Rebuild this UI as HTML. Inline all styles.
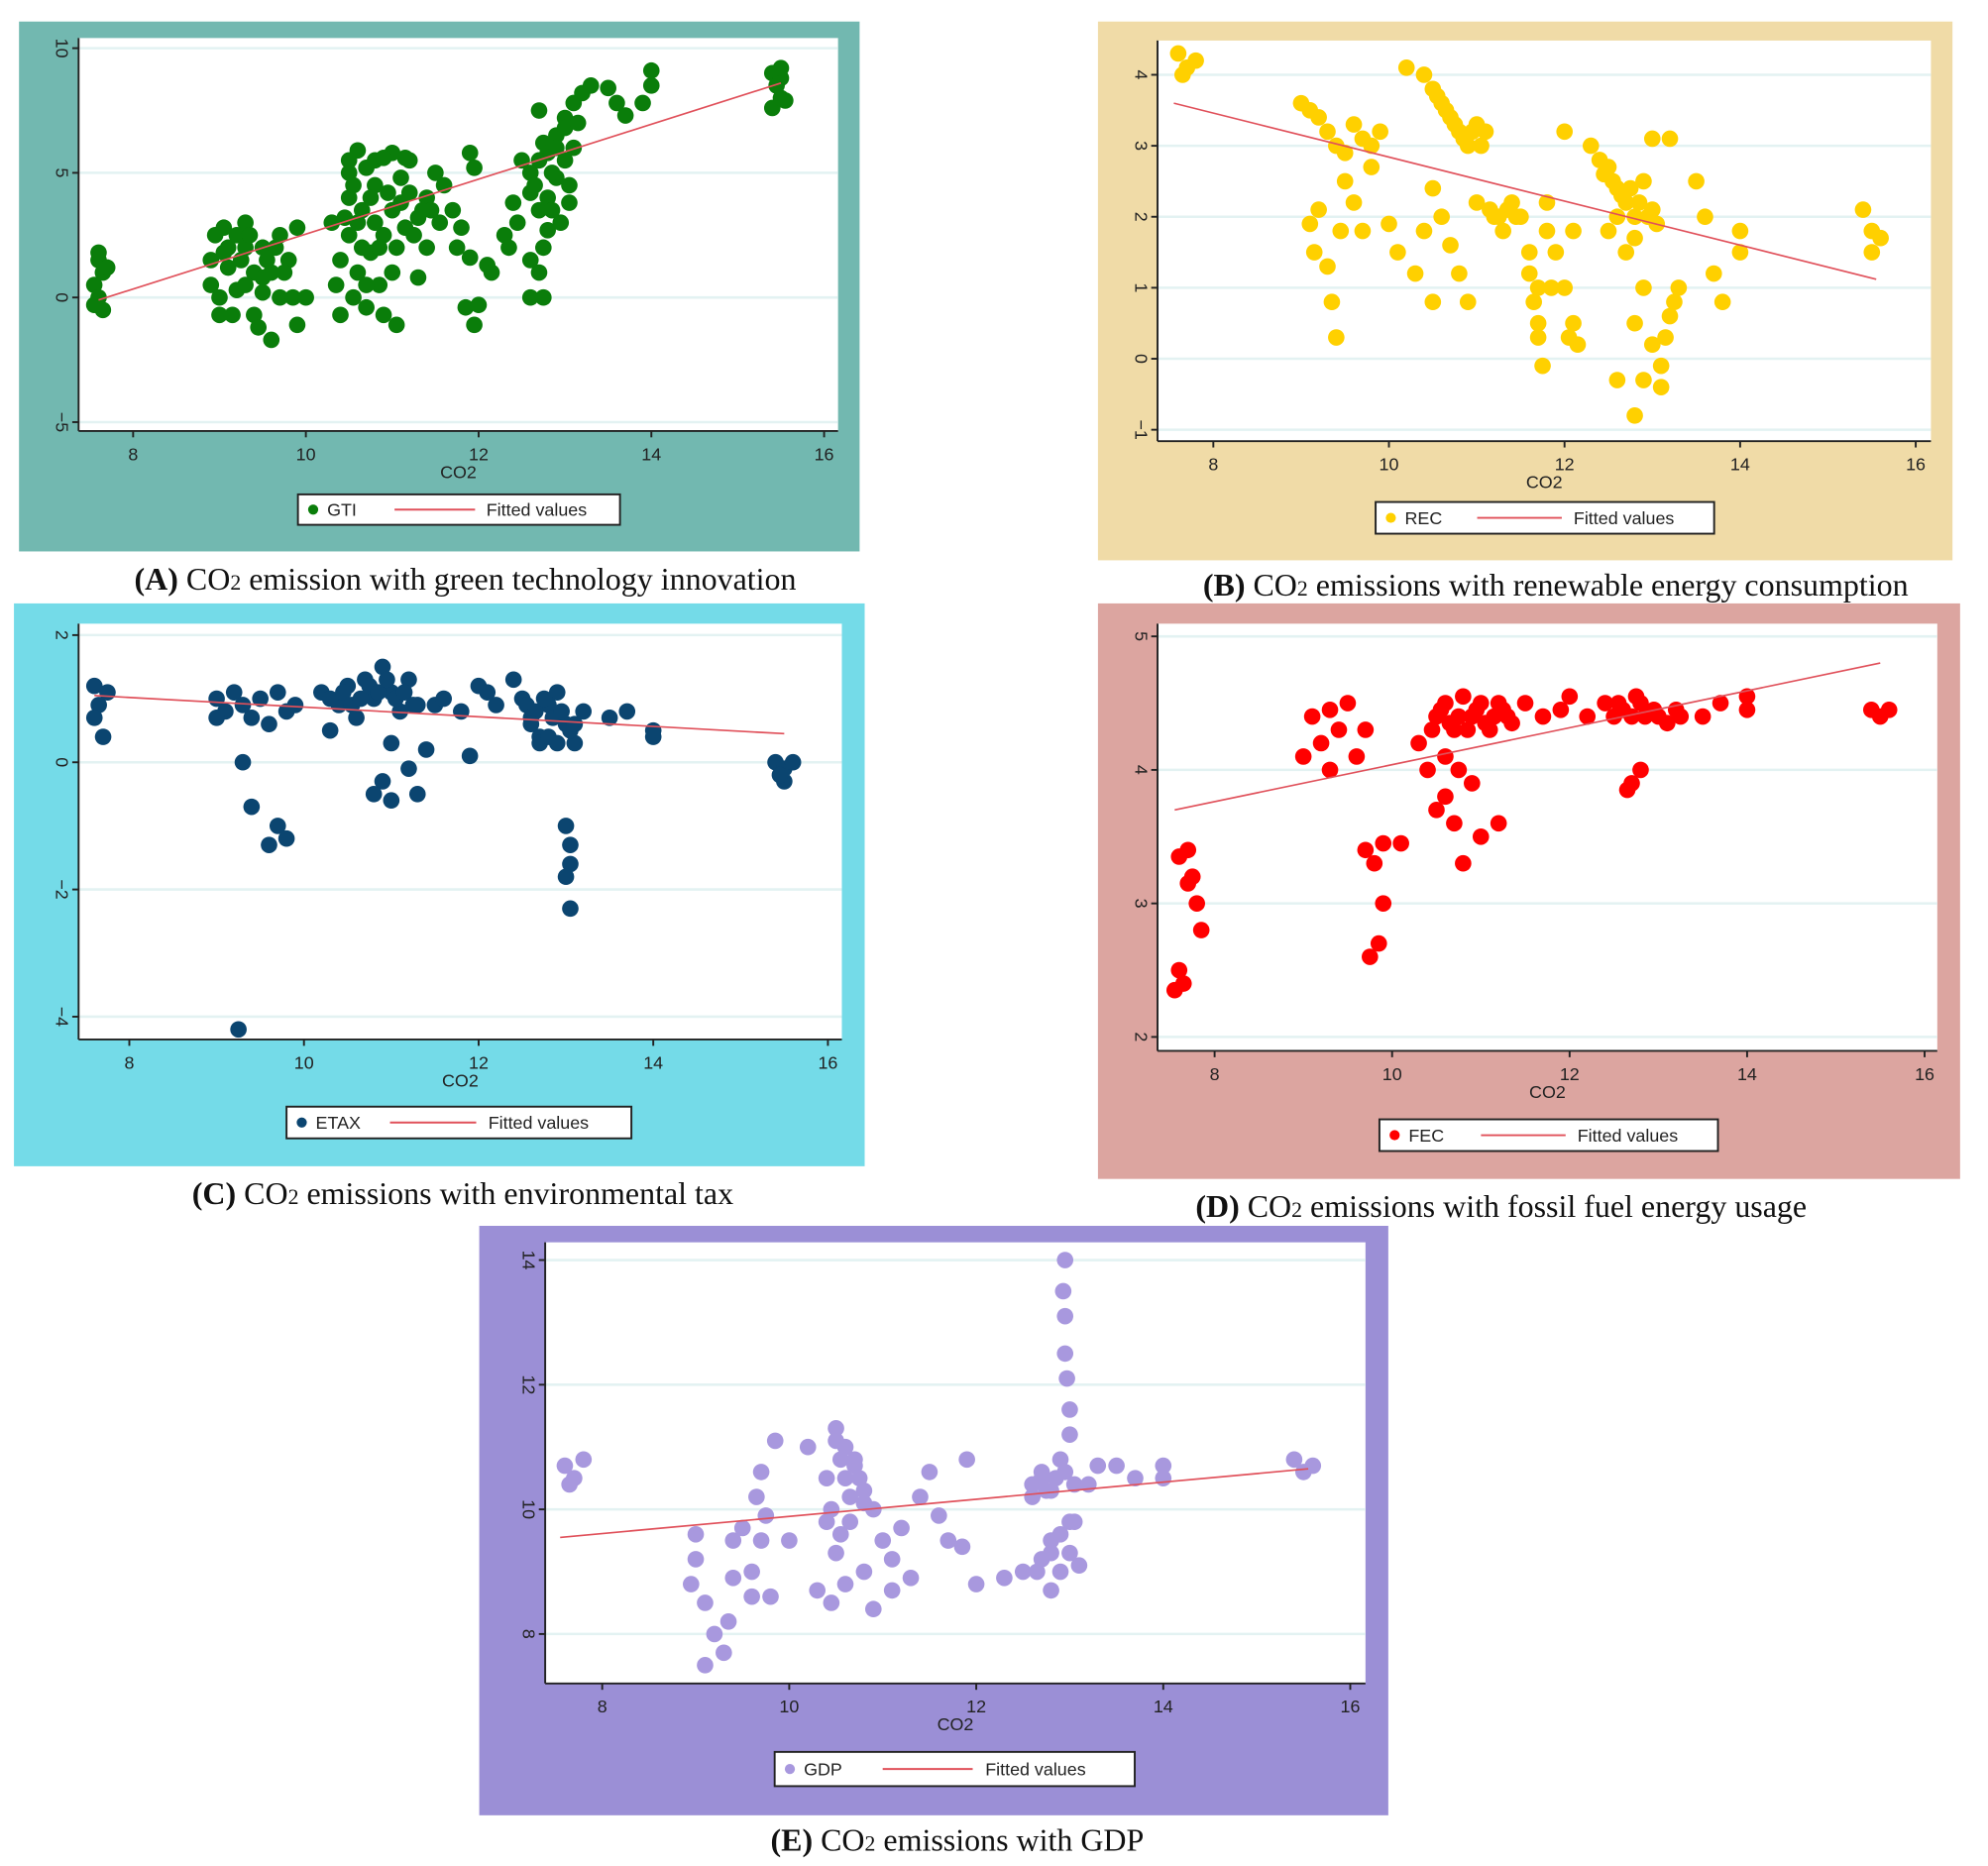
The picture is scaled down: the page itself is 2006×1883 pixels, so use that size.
<!DOCTYPE html>
<html><head><meta charset="utf-8">
<style>
html,body{margin:0;padding:0;background:#fff;}
svg{display:block;}
text{font-family:"Liberation Sans",sans-serif;}
.cap{font-family:"Liberation Serif",serif;font-size:25px;fill:#111;}
</style></head>
<body>
<svg id="fig" width="2006" height="1883" viewBox="0 0 1568 1472" preserveAspectRatio="none" xmlns="http://www.w3.org/2000/svg"></svg>
<script>
// ---- Data (CO2 on x; variable on y) ----
const xTicks = [8, 10, 12, 14, 16];
const gtiX = [7.6,7.65,7.55,7.6,7.65,7.7,7.6,7.55,8.9,8.9,8.95,9.0,9.05,9.1,9.2,9.3,9.3,9.4,9.4,9.5,9.5,9.6,9.6,9.7,9.7,9.8,9.85,9.9,9.9,9.0,9.15,9.45,10.0,10.3,10.35,10.4,10.4,10.5,10.5,10.5,10.55,10.6,10.65,10.7,10.75,10.8,10.8,10.85,10.9,10.9,11.0,11.0,11.0,11.05,11.1,11.15,11.2,11.3,11.3,11.4,11.4,11.5,11.55,11.6,11.7,11.75,11.8,11.9,11.9,11.95,11.85,11.95,12.0,12.1,12.15,12.3,12.35,12.4,12.45,12.5,12.6,12.6,12.6,12.7,12.6,12.75,12.7,12.7,12.75,12.8,12.8,12.9,12.9,12.95,13.0,13.0,13.05,13.1,13.1,13.2,13.3,13.5,13.6,13.7,13.9,14.0,14.0,15.4,15.4,15.45,15.5,15.5,15.55,15.5,
  10.5,10.55,10.6,10.65,10.7,10.75,10.8,10.85,10.9,10.95,
  11.05,11.1,11.15,11.2,11.25,11.35,11.45,10.45,10.6,10.7,
  12.65,12.7,12.8,12.85,12.9,13.0,13.05,13.15,12.75,12.85,
  9.1,9.2,9.25,9.35,9.55,9.65,9.75,9.05,9.3,9.5];
const gtiY = [1.5,1.0,0.5,0,-0.5,1.2,1.8,-0.3,0.5,1.5,2.5,0,2.8,1.2,0.3,2.0,3.0,1.0,-0.7,0.2,2.0,-1.7,1.0,0,2.5,1.5,0,2.8,-1.1,-0.7,-0.7,-1.2,0,3.0,0.5,-0.7,1.5,5.5,4.0,2.5,0,5.9,3.5,-0.4,1.8,5.5,4.5,0.5,2.5,-0.7,5.8,3.5,1.0,-1.1,4.8,2.8,5.5,3.2,0.8,4.0,2.0,5.0,3.0,4.5,3.5,2.0,2.8,1.6,5.8,5.2,-0.4,-1.1,-0.3,1.3,1.0,2.5,2.0,3.8,3.0,5.5,5.0,4.2,1.5,1.0,0,0,3.5,7.5,6.2,2.7,5.8,4.8,6.5,3.0,7.2,5.5,3.8,6.0,7.8,8.2,8.5,8.4,7.8,7.3,7.8,8.5,9.1,9.0,7.6,8.5,8.0,8.8,7.9,9.2,
  5.0,4.5,3.0,2.0,5.2,4.0,3.0,2.0,5.6,4.2,
  2.0,3.8,5.6,4.2,2.5,3.5,3.5,3.2,1.0,0.5,
  4.5,5.5,4.0,5.0,6.0,6.8,4.5,7.0,2.0,3.5,
  2.0,2.5,1.5,2.5,1.5,2.0,1.0,1.8,0.5,0.8];
const gtiTicks = [-5, 0, 5, 10];
const recX = [7.6,7.7,7.8,7.65,9.0,9.1,9.2,9.3,9.4,9.5,9.6,9.7,9.8,9.9,9.1,9.15,9.2,9.3,9.35,9.4,9.45,9.5,9.6,9.7,9.8,10.0,10.1,10.2,10.4,10.5,10.6,10.7,10.8,10.9,11.0,11.1,10.5,10.6,10.7,10.8,10.9,10.5,10.3,10.4,11.0,11.2,11.3,11.4,11.5,11.6,11.7,11.7,11.75,11.9,12.0,12.05,12.1,11.8,12.0,12.3,12.5,12.6,12.7,12.8,12.9,13.0,13.0,13.2,12.5,12.7,12.8,12.9,12.6,12.8,13.0,13.1,13.2,13.3,12.9,13.5,13.6,13.7,13.8,14.0,14.0,15.4,15.5,15.5,15.6,
  10.55,10.65,10.75,10.85,10.95,11.05,11.15,11.25,11.35,11.45,
  12.4,12.45,12.55,12.65,12.75,12.85,12.95,13.05,12.6,12.8,
  11.6,11.65,11.7,11.8,11.85,12.1,12.15,13.1,13.15,13.25];
const recY = [4.3,4.1,4.2,4.0,3.6,3.5,3.4,3.2,3.0,2.9,3.3,3.1,3.0,3.2,1.9,1.5,2.1,1.3,0.8,0.3,1.8,2.5,2.2,1.8,2.7,1.9,1.5,4.1,4.0,3.8,3.6,3.4,3.2,3.0,3.3,3.2,2.4,2.0,1.6,1.2,0.8,0.8,1.2,1.8,2.2,2.0,1.8,2.2,2.0,1.5,1.0,0.3,-0.1,1.5,1.0,0.3,1.8,2.2,3.2,3.0,2.7,2.4,2.2,2.0,2.5,2.1,3.1,3.1,1.8,1.5,0.5,-0.3,-0.3,-0.8,0.2,-0.4,0.6,1.0,1.0,2.5,2.0,1.2,0.8,1.5,1.8,2.1,1.8,1.5,1.7,
  3.7,3.5,3.3,3.1,3.2,3.0,2.1,2.0,2.1,2.0,
  2.8,2.6,2.5,2.3,2.4,2.2,2.0,1.9,2.0,1.7,
  1.2,0.8,0.5,1.8,1.0,0.5,0.2,-0.1,0.3,0.8];
const recTicks = [-1, 0, 1, 2, 3, 4];
const etaxX = [7.6,7.65,7.6,7.7,7.75,9.0,9.1,9.2,9.3,9.4,9.5,9.6,9.7,9.8,9.9,9.0,9.4,9.6,9.7,9.8,9.25,9.3,10.2,10.3,10.4,10.5,10.6,10.7,10.8,10.9,11.0,11.1,11.2,11.3,11.0,10.9,11.0,10.8,11.2,11.3,11.4,11.5,11.6,11.8,12.0,12.1,11.9,12.2,12.4,12.5,12.6,12.7,12.8,12.9,13.0,13.1,13.2,12.7,13.0,13.05,13.05,13.0,13.05,13.5,13.7,14.0,14.0,15.4,15.5,15.5,15.6,15.45,
  10.3,10.45,10.55,10.65,10.75,10.85,10.95,11.05,11.15,11.25,
  12.55,12.65,12.75,12.85,12.95,13.05,13.1,12.8,12.9,12.6];
const etaxY = [1.2,0.9,0.7,0.4,1.1,1.0,0.8,1.1,0.9,0.7,1.0,0.6,1.1,0.8,0.9,0.7,-0.7,-1.3,-1.0,-1.2,-4.2,0,1.1,0.5,0.9,1.2,0.7,1.3,1.0,1.5,1.1,0.8,1.3,0.9,0.3,-0.3,-0.6,-0.5,-0.1,-0.5,0.2,0.9,1.0,0.8,1.2,1.1,0.1,0.9,1.3,1.0,0.7,0.4,0.9,1.1,0.6,0.3,0.8,0.3,-1.0,-1.3,-1.6,-1.8,-2.3,0.7,0.8,0.5,0.4,0,-0.1,-0.3,0.0,-0.2,
  1.0,1.1,0.9,1.0,1.2,1.1,1.3,1.0,1.1,0.9,
  0.9,0.8,1.0,0.7,0.8,0.5,0.6,0.4,0.3,0.6];
const etaxTicks = [-4, -2, 0, 2];
const fecX = [7.55,7.6,7.65,7.6,7.7,7.75,7.8,7.85,7.7,9.0,9.1,9.2,9.3,9.4,9.5,9.6,9.7,9.3,9.7,9.8,9.9,9.75,9.85,9.9,10.1,10.3,10.4,10.5,10.6,10.7,10.8,10.9,11.0,11.1,11.2,11.3,10.6,10.7,10.8,11.0,11.2,10.9,10.5,11.5,11.7,11.9,12.0,12.2,12.4,12.6,12.8,13.0,13.2,12.7,12.8,12.65,13.5,13.7,14.0,14.0,15.4,15.5,15.6,
  10.45,10.55,10.65,10.75,10.85,10.95,11.05,11.15,11.25,11.35,
  12.5,12.55,12.7,12.75,12.85,12.95,13.1,13.25,10.6,10.75];
const fecY = [2.35,2.5,2.4,3.35,3.4,3.2,3.0,2.8,3.15,4.1,4.4,4.2,4.45,4.3,4.5,4.1,4.3,4.0,3.4,3.3,3.0,2.6,2.7,3.45,3.45,4.2,4.0,4.4,4.5,4.3,4.55,4.4,4.5,4.3,4.5,4.4,3.8,3.6,3.3,3.5,3.6,3.9,3.7,4.5,4.4,4.45,4.55,4.4,4.5,4.45,4.5,4.4,4.45,3.9,4.0,3.85,4.4,4.5,4.45,4.55,4.45,4.4,4.45,
  4.3,4.45,4.35,4.4,4.3,4.45,4.35,4.4,4.45,4.35,
  4.4,4.5,4.4,4.55,4.4,4.45,4.35,4.4,4.1,4.0];
const fecTicks = [2, 3, 4, 5];
const gdpX = [7.6,7.7,7.8,7.65,9.0,9.0,8.95,9.1,9.2,9.1,9.3,9.35,9.4,9.4,9.5,9.6,9.6,9.7,9.75,9.8,9.85,9.7,9.65,10.0,10.2,10.4,10.5,10.6,10.7,10.8,10.9,10.4,10.5,10.6,10.3,10.45,11.0,11.1,10.8,10.9,11.1,11.3,11.2,11.4,11.5,11.6,11.7,11.85,11.9,12.0,12.3,12.5,12.6,12.7,12.8,12.9,12.7,12.8,12.8,12.9,13.0,13.1,13.05,13.2,13.3,13.0,13.0,12.97,12.95,12.95,12.93,12.95,13.5,13.7,14.0,14.0,15.4,15.5,15.6,
  10.5,10.55,10.6,10.65,10.7,10.75,10.8,10.45,10.55,10.65,
  12.6,12.7,12.75,12.85,12.95,13.05,12.65,12.8,12.9,13.0];
const gdpY = [10.7,10.5,10.8,10.4,9.6,9.2,8.8,8.5,8.0,7.5,7.7,8.2,9.5,8.9,9.7,9.0,8.6,9.5,9.9,8.6,11.1,10.6,10.2,9.5,11.0,10.5,11.3,11.0,10.7,10.3,10.0,9.8,9.3,8.8,8.7,8.5,9.5,9.2,9.0,8.4,8.7,8.9,9.7,10.2,10.6,9.9,9.5,9.4,10.8,8.8,8.9,9.0,10.2,10.5,10.3,10.8,9.2,9.5,8.7,9.0,9.3,9.1,9.8,10.4,10.7,11.2,11.6,12.1,12.5,13.1,13.5,14.0,10.7,10.5,10.7,10.5,10.8,10.6,10.7,
  11.1,10.8,10.5,10.2,10.8,10.5,10.1,10.0,9.6,9.8,
  10.4,10.6,10.3,10.5,10.6,10.4,9.0,9.3,9.6,9.8];
const gdpTicks = [8, 10, 12, 14];
// fitted line endpoints [x0,y0,x1,y1]
const gtiFit = [7.6,-0.1,15.5,8.6];
const recFit = [7.55,3.6,15.55,1.12];
const etaxFit = [7.6,1.05,15.5,0.45];
const fecFit = [7.55,3.7,15.5,4.8];
const gdpFit = [7.55,9.55,15.55,10.65];

const NS = "http://www.w3.org/2000/svg";
const svg = document.getElementById('fig');
function mk(tag, attrs, parent){
  const e = document.createElementNS(NS, tag);
  for (const k in attrs) e.setAttribute(k, attrs[k]);
  (parent||svg).appendChild(e); return e;
}
function panel(p){
  const g = mk('g', {});
  
  
  const bg = mk('rect', {x:p.bx, y:p.by, width:p.bw, height:p.bh, fill:p.bg}, g);
  
  
  mk('rect', {x:p.px0, y:p.py0, width:p.px1-p.px0, height:p.py1-p.py0, fill:'#fff'}, g);
  const sx = v => p.xa + (v - 8) * (p.xb - p.xa) / 8;
  const sy = v => p.ya + (v - p.yt[0]) * (p.yb - p.ya) / (p.yt[p.yt.length-1] - p.yt[0]);
  p.yt.forEach(t => {
    const gl = mk('line', {x1:p.px0, x2:p.px1, y1:sy(t), y2:sy(t), stroke:'#e3f2f2', 'stroke-width':2}, g);
    
    
  });
  const ax = mk('line', {x1:p.px0, x2:p.px1, y1:p.py1, y2:p.py1, stroke:'#222', 'stroke-width':1.5}, g);
  
  
  const ay = mk('line', {x1:p.px0, x2:p.px0, y1:p.py0, y2:p.py1, stroke:'#222', 'stroke-width':1.5}, g);
  
  
  xTicks.forEach(t => {
    mk('line', {x1:sx(t), x2:sx(t), y1:p.py1, y2:p.py1+5, stroke:'#222', 'stroke-width':1.5}, g);
    const tl = mk('text', {x:sx(t), y:p.py1+23, 'font-size':14, 'text-anchor':'middle', fill:'#222'}, g);
    tl.textContent = t;
    
    
  });
  const xt = mk('text', {x:(p.px0+p.px1)/2, y:p.py1+37, 'font-size':14, 'text-anchor':'middle', fill:'#222'}, g);
  xt.textContent = 'CO2';
  
  
  p.yt.forEach(t => {
    mk('line', {x1:p.px0-5, x2:p.px0, y1:sy(t), y2:sy(t), stroke:'#222', 'stroke-width':1.5}, g);
    const yl = mk('text', {x:p.px0-14, y:sy(t), 'font-size':14, 'text-anchor':'middle', fill:'#222', transform:'rotate(90 '+(p.px0-14)+' '+sy(t)+')', 'dominant-baseline':'middle'}, g);
    yl.textContent = t < 0 ? '\u2212' + (-t) : t;
    
    
  });
  p.xs.forEach((x, i) => {
    const c = mk('circle', {cx:sx(x), cy:sy(p.ys[i]), r:6.5, fill:p.col}, g);
    
    
  });
  const f = p.fit;
  const fl = mk('line', {x1:sx(f[0]), y1:sy(f[1]), x2:sx(f[2]), y2:sy(f[3]), stroke:'#e0505a', 'stroke-width':1.3}, g);
  
  
  const lg = mk('g', {}, g);
  
  
  const lx = p.lx, ly = p.ly, lw = p.lw, lh = p.lh, cy = ly + lh/2;
  mk('rect', {x:lx, y:ly, width:lw, height:lh, fill:'#fff', stroke:'#222', 'stroke-width':1.5}, lg);
  mk('circle', {cx:lx+12, cy:cy, r:4, fill:p.col}, lg);
  const t1 = mk('text', {x:lx+23, y:cy+5, 'font-size':14, fill:'#222'}, lg);
  t1.textContent = p.name;
  
  
  mk('line', {x1:lx+lw*0.3, x2:lx+lw*0.55, y1:cy, y2:cy, stroke:'#e0505a', 'stroke-width':1.5}, lg);
  const t2 = mk('text', {x:lx+lw*0.585, y:cy+5, 'font-size':14, fill:'#222'}, lg);
  t2.textContent = 'Fitted values';
  
  
  const cp = mk('text', {x:p.cx, y:p.cy, 'text-anchor':'middle', class:'cap'}, g);
  
  
  const b = document.createElementNS(NS, 'tspan'); b.setAttribute('font-weight', 'bold'); b.textContent = '(' + p.letter + ')';
  cp.appendChild(b);
  cp.appendChild(document.createTextNode(' CO'));
  const s = document.createElementNS(NS, 'tspan'); s.setAttribute('font-size', '17'); s.textContent = '2';
  cp.appendChild(s);
  const r = document.createElementNS(NS, 'tspan'); r.textContent = ' ' + p.cap;
  cp.appendChild(r);
}
panel({key:'gti', name:'GTI', letter:'A', cap:'emission with green technology innovation', col:'#0a7d0a', bg:'#72b8b0',
  bx:15,by:17,bw:663,bh:418, px0:62,py0:30,px1:661,py1:340, xa:105,xb:650, yt:gtiTicks, ya:333,yb:38,
  xs:gtiX, ys:gtiY, fit:gtiFit, lx:235,ly:390,lw:254,lh:24, cx:367,cy:465});
panel({key:'rec', name:'REC', letter:'B', cap:'emissions with renewable energy consumption', col:'#ffd000', bg:'#f0dba7',
  bx:866,by:17,bw:674,bh:425, px0:913,py0:32,px1:1523,py1:348, xa:957,xb:1511, yt:recTicks, ya:339,yb:59,
  xs:recX, ys:recY, fit:recFit, lx:1085,ly:396,lw:267,lh:25, cx:1227,cy:470});
panel({key:'etax', name:'ETAX', letter:'C', cap:'emissions with environmental tax', col:'#0b4570', bg:'#74dbe8',
  bx:11,by:476,bw:671,bh:444, px0:62,py0:492,px1:664,py1:820, xa:102,xb:653, yt:etaxTicks, ya:802,yb:501,
  xs:etaxX, ys:etaxY, fit:etaxFit, lx:226,ly:873,lw:272,lh:25, cx:365,cy:950});
panel({key:'fec', name:'FEC', letter:'D', cap:'emissions with fossil fuel energy usage', col:'#ff0000', bg:'#dca5a0',
  bx:866,by:476,bw:680,bh:454, px0:913,py0:492,px1:1528,py1:829, xa:958,xb:1518, yt:fecTicks, ya:818,yb:502,
  xs:fecX, ys:fecY, fit:fecFit, lx:1088,ly:883,lw:267,lh:25, cx:1184,cy:960});
panel({key:'gdp', name:'GDP', letter:'E', cap:'emissions with GDP', col:'#a898de', bg:'#9b8fd6',
  bx:378,by:967,bw:717,bh:465, px0:430,py0:980,px1:1077,py1:1328, xa:475,xb:1065, yt:gdpTicks, ya:1289,yb:994,
  xs:gdpX, ys:gdpY, fit:gdpFit, lx:611,ly:1382,lw:284,lh:27, cx:755,cy:1460});
</script>
</body></html>
